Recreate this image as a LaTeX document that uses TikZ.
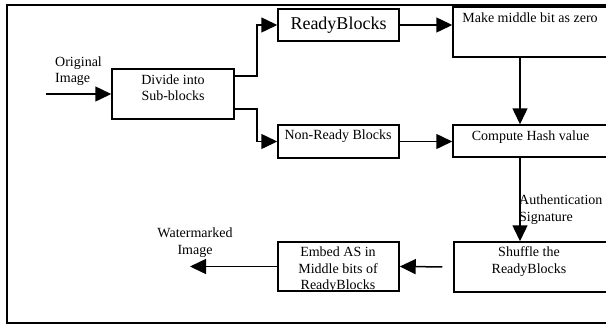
\documentclass[tikz,border=0pt]{standalone}
\usepackage{fontspec}
\setmainfont{Liberation Serif}
\usetikzlibrary{arrows.meta}
\begin{document}
\begin{tikzpicture}[x=1pt,y=-1pt,
  box/.style={draw, line width=1.5pt, rectangle, inner sep=0pt},
  lbl/.style={font=\fontsize{14}{16.5}\selectfont, inner sep=0pt, align=center},
  conn/.style={line width=1.5pt, -{Triangle[length=16pt,width=15pt]}}]
\useasboundingbox (0,0) rectangle (606,325);
\clip (0,0) rectangle (606,325);
\draw[line width=1.8pt] (7,5) rectangle (614,323);
% boxes
\node[box, minimum width=121pt, minimum height=32pt] (ready) at (338.5,25) {};
\node[box, minimum width=155pt, minimum height=50pt] (make) at (530.5,32) {};
\node[box, minimum width=122pt, minimum height=50pt] (divide) at (173,94) {};
\node[box, minimum width=121pt, minimum height=33pt] (nonready) at (338.5,141.5) {};
\node[box, minimum width=155pt, minimum height=32pt] (hash) at (530.5,141) {};
\node[box, minimum width=154pt, minimum height=50pt] (shuffle) at (531,267) {};
\node[box, minimum width=121pt, minimum height=49pt] (embed) at (338.5,266.5) {};
% labels
\node[lbl, font=\fontsize{18}{21}\selectfont, anchor=base] (tready) at (338.5,29) {ReadyBlocks};
\node[lbl, anchor=base] (tmake) at (530,22) {Make middle bit as zero};
\node[lbl, anchor=base] (tdivide) at (173,100.5) {Divide into\\Sub-blocks};
\node[lbl, anchor=base] (tnonready) at (338,139) {Non-Ready Blocks};
\node[lbl, anchor=base] (thash) at (530.5,140) {Compute Hash value};
\node[lbl, anchor=base] (tshuffle) at (529,273) {Shuffle the\\ReadyBlocks};
\begin{scope}
\clip (embed.south west) rectangle (embed.north east);
\node[lbl, anchor=base] (tembed) at (338,289.5) {Embed AS in\\Middle bits of\\ReadyBlocks};
\end{scope}
\node[lbl, anchor=base west, align=left] (torig) at (55,82.5) {Original\\Image};
\node[lbl, anchor=base west, align=left] (tauth) at (519,221) {Authentication\\Signature};
\node[lbl, anchor=base] (twm) at (195,254) {Watermarked\\Image};
% connectors
\coordinate (src) at (46,94);
\coordinate (vx) at (520,0);
\coordinate (out) at (190,266.5);
\draw[conn] (src) -- (divide.west);
\draw[conn] ([yshift=18pt]divide.east) -- ++(22,0) |- (ready.west);
\draw[conn] ([yshift=-15pt]divide.east) -- ++(22,0) |- (nonready.west);
\draw[conn] (ready.east) -- (ready.east -| make.west);
\draw[conn] (nonready.east) -- (nonready.east -| hash.west);
\draw[conn] (make.south -| vx) -- (hash.north -| vx);
\draw[conn] (hash.south -| vx) -- (shuffle.north -| vx);
\draw[conn, shorten <=11pt] (shuffle.west) -- (embed.east);
\draw[conn] (embed.west) -- (out);
\end{tikzpicture}
\end{document}
